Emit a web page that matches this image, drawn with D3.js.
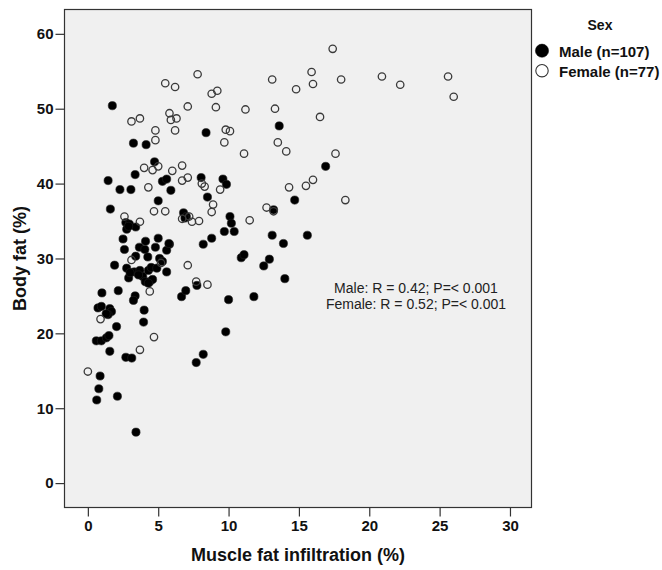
<!DOCTYPE html>
<html>
<head>
<meta charset="utf-8">
<script src="https://cdn.jsdelivr.net/npm/d3@7"></script>
<style>
    body { margin: 0; background: #ffffff; }
    svg { display: block; }
</style>
</head>
<body>
<div id="chart"></div>
<script>
(function () {
    "use strict";

    // Muscle fat infiltration (%), body fat (%)
    const malePoints = [
        [1.74, 50.4], [3.24, 45.4], [4.14, 45.2], [8.4, 46.8], [13.6, 47.7], [4.74, 42.9],
        [3.36, 41.2], [1.44, 40.4], [2.28, 39.2], [3.06, 39.2], [1.6, 36.6], [5.0, 37.7],
        [5.3, 40.3], [5.6, 40.6], [5.9, 39.1], [8.05, 40.8], [9.6, 40.6], [9.85, 39.9],
        [8.5, 38.2], [14.7, 37.8], [16.9, 42.3], [2.7, 34.8], [2.95, 34.6], [3.4, 34.2],
        [2.76, 33.9], [2.5, 32.6], [2.6, 31.2], [4.1, 32.3], [5.0, 32.7], [5.8, 31.9],
        [5.6, 31.1], [3.66, 31.5], [4.05, 31.2], [4.8, 31.5], [3.4, 30.3], [4.26, 30.2],
        [5.1, 30.0], [2.76, 28.7], [2.9, 27.4], [3.3, 28.2], [3.7, 28.4], [3.9, 27.6],
        [4.3, 28.4], [4.5, 28.8], [4.9, 28.7], [5.6, 28.2], [4.08, 26.9], [4.4, 26.9],
        [1.9, 29.1], [2.16, 25.7], [1.0, 25.4], [3.36, 25.0], [3.24, 24.4], [0.72, 23.4],
        [0.96, 23.6], [1.56, 23.3], [1.68, 22.9], [1.44, 22.5], [4.0, 23.1], [3.96, 21.5],
        [2.04, 20.9], [0.6, 19.0], [0.96, 19.0], [1.32, 19.4], [1.5, 19.7], [1.56, 17.6],
        [2.7, 16.8], [3.12, 16.7], [0.87, 14.3], [0.78, 12.6], [0.63, 11.1], [2.1, 11.6],
        [3.42, 6.8], [6.66, 24.9], [6.96, 25.7], [7.75, 26.4], [7.7, 16.1], [8.2, 17.2],
        [9.8, 20.2], [10.0, 24.5], [11.8, 24.9], [8.2, 31.9], [8.8, 32.7], [6.8, 36.1],
        [7.0, 35.6], [6.9, 35.4], [10.1, 35.6], [10.2, 34.7], [9.7, 33.6], [10.4, 33.6],
        [10.9, 30.1], [11.1, 30.5], [12.5, 29.0], [12.9, 29.9], [13.1, 33.1], [13.2, 36.5],
        [13.9, 32.0], [14.0, 27.3], [15.6, 33.1], [5.3, 29.6], [3.6, 27.8], [4.6, 27.2],
        [4.3, 26.7], [5.76, 32.0], [2.9, 34.3], [1.3, 22.6], [3.0, 28.1]
    ];

    const femalePoints = [
        [0.0, 14.9], [0.9, 21.9], [2.6, 35.6], [3.7, 34.9], [3.1, 48.3], [3.7, 48.7],
        [4.0, 42.1], [4.3, 39.5], [4.6, 41.8], [5.0, 42.3], [4.8, 47.1], [4.8, 45.8],
        [5.5, 53.4], [6.2, 52.9], [5.8, 49.4], [5.9, 48.5], [6.3, 48.7], [6.2, 47.1],
        [6.0, 41.7], [6.7, 42.4], [6.7, 40.4], [7.1, 40.8], [7.1, 50.3], [7.8, 54.6],
        [4.7, 36.3], [5.5, 36.3], [3.1, 29.8], [4.4, 25.6], [5.2, 29.4], [4.7, 19.5],
        [3.7, 17.8], [6.7, 35.3], [7.2, 35.6], [7.4, 34.9], [7.9, 35.0], [7.1, 29.1],
        [7.7, 26.9], [8.5, 26.5], [8.1, 40.0], [8.3, 39.6], [8.9, 37.2], [8.8, 36.2],
        [8.8, 52.0], [9.2, 52.4], [9.1, 50.2], [9.7, 45.5], [9.8, 47.2], [10.1, 47.0],
        [9.4, 39.2], [11.2, 49.9], [11.1, 44.0], [11.5, 35.1], [12.7, 36.8], [13.2, 36.3],
        [13.1, 53.9], [13.3, 50.0], [13.5, 45.5], [14.1, 44.3], [14.3, 39.5], [14.8, 52.6],
        [15.5, 39.7], [15.9, 54.9], [16.0, 53.3], [16.0, 40.5], [16.5, 48.9], [17.4, 58.0],
        [18.0, 53.9], [17.6, 44.0], [18.3, 37.8], [20.9, 54.3], [22.2, 53.2], [25.6, 54.3],
        [26.0, 51.6]
    ];

    const xTicks = [0, 5, 10, 15, 20, 25, 30];
    const yTicks = [0, 10, 20, 30, 40, 50, 60];
    const legendTitle = "Sex";
    const legendLabels = ["Male (n=107)", "Female (n=77)"];
    const statLines = ["Male: R = 0.42; P=< 0.001", "Female: R = 0.52; P=< 0.001"];
    const xTitle = "Muscle fat infiltration (%)";
    const yTitle = "Body fat (%)";

    const width = 662;
    const height = 570;
    const plot = { left: 64.5, right: 531.5, top: 9.5, bottom: 507.5 };
    const axisColor = "#333333";
    const font = "'Liberation Sans', Arial, sans-serif";

    const svg = d3.select("#chart")
        .append("svg")
        .attr("width", width)
        .attr("height", height)
        .style("font-family", font);

    const x = d3.scaleLinear().domain([-1.66, 31.53]).range([plot.left, plot.right]);
    const y = d3.scaleLinear().domain([-3.26, 63.25]).range([plot.bottom, plot.top]);

    svg.append("rect")
        .attr("x", plot.left)
        .attr("y", plot.top)
        .attr("width", plot.right - plot.left)
        .attr("height", plot.bottom - plot.top)
        .attr("fill", "#f0f0f0")
        .attr("stroke", axisColor)
        .attr("stroke-width", 1.2);

    function styleAxis(g) {
        g.select(".domain").remove();
        g.selectAll(".tick line").attr("stroke", axisColor).attr("stroke-width", 1.2);
        g.selectAll(".tick text")
            .attr("fill", "#111")
            .style("font-family", font)
            .style("font-size", "15px")
            .style("font-weight", "bold");
    }

    svg.append("g")
        .attr("transform", `translate(0,${plot.bottom})`)
        .call(d3.axisBottom(x).tickValues(xTicks).tickSize(9).tickPadding(4))
        .call(styleAxis);

    svg.append("g")
        .attr("transform", `translate(${plot.left},0)`)
        .call(d3.axisLeft(y).tickValues(yTicks).tickSize(9).tickPadding(2))
        .call(styleAxis);

    // males first, open female markers on top
    svg.append("g")
        .selectAll("circle")
        .data(malePoints)
        .join("circle")
        .attr("cx", (d) => x(d[0]))
        .attr("cy", (d) => y(d[1]))
        .attr("r", 4.1)
        .attr("fill", "#000")
        .attr("stroke", "#222")
        .attr("stroke-width", 0.6);

    svg.append("g")
        .selectAll("circle")
        .data(femalePoints)
        .join("circle")
        .attr("cx", (d) => x(d[0]))
        .attr("cy", (d) => y(d[1]))
        .attr("r", 3.7)
        .attr("fill", "none")
        .attr("stroke", "#3a3a3a")
        .attr("stroke-width", 1.3);

    svg.append("text")
        .attr("x", (plot.left + plot.right) / 2)
        .attr("y", 561)
        .attr("text-anchor", "middle")
        .attr("fill", "#111")
        .style("font-size", "18px")
        .style("font-weight", "bold")
        .text(xTitle);

    svg.append("text")
        .attr("transform", `translate(26,${(plot.top + plot.bottom) / 2}) rotate(-90)`)
        .attr("text-anchor", "middle")
        .attr("fill", "#111")
        .style("font-size", "18px")
        .style("font-weight", "bold")
        .text(yTitle);

    svg.append("g")
        .selectAll("text")
        .data(statLines)
        .join("text")
        .attr("x", 416)
        .attr("y", (d, i) => 293 + i * 16)
        .attr("text-anchor", "middle")
        .attr("fill", "#222")
        .style("font-size", "14px")
        .text((d) => d);

    const legend = svg.append("g");
    legend.append("text")
        .attr("x", 600)
        .attr("y", 30)
        .attr("text-anchor", "middle")
        .attr("fill", "#111")
        .style("font-size", "14px")
        .style("font-weight", "bold")
        .text(legendTitle);

    legendLabels.forEach((label, i) => {
        const cy = 50.7 + i * 20;
        legend.append("circle")
            .attr("cx", 542)
            .attr("cy", cy)
            .attr("r", i === 0 ? 6.6 : 6.2)
            .attr("fill", i === 0 ? "#000" : "#fff")
            .attr("stroke", i === 0 ? "#000" : "#333")
            .attr("stroke-width", i === 0 ? 0.5 : 1.1);
        legend.append("text")
            .attr("x", 559)
            .attr("y", cy + 6)
            .attr("fill", "#111")
            .style("font-size", "15px")
            .style("font-weight", "bold")
            .text(label);
    });
})();
</script>
</body>
</html>
